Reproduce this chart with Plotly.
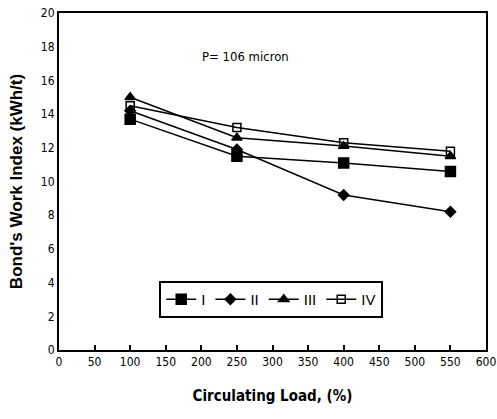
import plotly.graph_objects as go

loads = [100, 250, 400, 550]
series_names = ["I", "II", "III", "IV"]
wi_I = [13.7, 11.5, 11.1, 10.6]
wi_II = [14.2, 11.9, 9.2, 8.2]
wi_III = [15.0, 12.6, 12.1, 11.5]
wi_IV = [14.5, 13.2, 12.3, 11.8]
x_ticks = [0, 50, 100, 150, 200, 250, 300, 350, 400, 450, 500, 550, 600]
y_ticks = [0, 2, 4, 6, 8, 10, 12, 14, 16, 18, 20]

symbols = ["square", "diamond", "triangle-up", "square-open"]
sizes = [10, 8, 9, 8]
values = [wi_I, wi_II, wi_III, wi_IV]

narrow = "Liberation Sans Narrow, DejaVu Sans Condensed, Arial, sans-serif"

fig = go.Figure()
for name, vals, sym, sz in zip(series_names, values, symbols, sizes):
    fig.add_trace(go.Scatter(
        x=loads, y=vals, name=name, mode="lines+markers",
        line=dict(color="black", width=1.5),
        marker=dict(symbol=sym, size=sz, color="black",
                    line=dict(color="black", width=1.5)),
    ))

fig.add_annotation(x=262, y=17.4, text="P= 106 micron", showarrow=False,
                   font=dict(family=narrow, size=13, color="black"))

fig.update_layout(
    width=497, height=419,
    margin=dict(l=59, r=11, t=13, b=69, autoexpand=False),
    paper_bgcolor="white", plot_bgcolor="white",
    showlegend=True,
    legend=dict(orientation="h", x=0.497, y=0.15, xanchor="center", yanchor="middle",
                bordercolor="black", borderwidth=2, bgcolor="white",
                font=dict(family="Arial, Liberation Sans, sans-serif", size=15, color="black"),
                itemwidth=30, tracegroupgap=0),
    xaxis=dict(range=[0, 600], tickvals=x_ticks, ticktext=[str(t) for t in x_ticks],
               showgrid=False, zeroline=False, showline=True, linecolor="black",
               linewidth=2, mirror=True, ticks="inside", ticklen=5, tickcolor="black",
               tickwidth=2, automargin=False, ticklabeloverflow="allow",
               tickfont=dict(family=narrow, size=12, color="black"),
               title=dict(text="<b>Circulating Load, (%)</b>",
                          font=dict(family=narrow, size=15, color="black"), standoff=22)),
    yaxis=dict(range=[0, 20], tickvals=y_ticks, ticktext=[str(t) for t in y_ticks],
               showgrid=False, zeroline=False, showline=True, linecolor="black",
               linewidth=2, mirror=True, ticks="", automargin=False,
               ticklabeloverflow="allow",
               tickfont=dict(family=narrow, size=12, color="black"),
               title=dict(text="<b>Bond's Work Index (kWh/t)</b>",
                          font=dict(family="Arial, Liberation Sans, sans-serif", size=17, color="black"),
                          standoff=14)),
)

fig.write_html("out.html", config={"displayModeBar": False},
               post_script="document.body.style.margin='0';document.body.style.overflow='hidden';")
